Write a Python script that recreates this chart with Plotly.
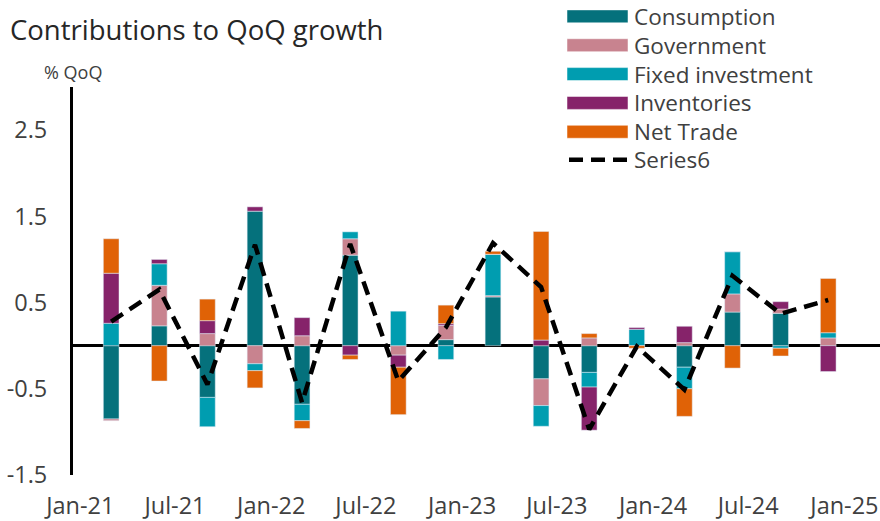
import plotly.graph_objects as go

# ---------------- data ----------------
quarters = ["2021-03-01", "2021-06-01", "2021-09-01", "2021-12-01",
            "2022-03-01", "2022-06-01", "2022-09-01", "2022-12-01",
            "2023-03-01", "2023-06-01", "2023-09-01", "2023-12-01",
            "2024-03-01", "2024-06-01", "2024-09-01", "2024-12-01"]

consumption = [-0.85, 0.23, -0.60, 1.56, -0.68, 1.05, 0.00, 0.07,
               0.565, -0.385, -0.31, 0.00, -0.25, 0.39, 0.375, 0.00]
government = [-0.02, 0.47, 0.14, -0.21, 0.115, 0.19, -0.11, 0.165,
              0.015, -0.31, 0.09, 0.00, 0.035, 0.21, 0.05, 0.09]
fixed_investment = [0.26, 0.25, -0.34, -0.08, -0.19, 0.08, 0.40, -0.16,
                    0.48, -0.24, -0.17, 0.19, -0.25, 0.49, -0.03, 0.06]
inventories = [0.58, 0.05, 0.15, 0.05, 0.21, -0.11, -0.14, 0.02,
               0.00, 0.065, -0.50, 0.02, 0.19, 0.00, 0.085, -0.30]
net_trade = [0.40, -0.41, 0.25, -0.20, -0.09, -0.05, -0.55, 0.215,
             0.035, 1.26, 0.05, -0.03, -0.32, -0.26, -0.09, 0.63]
series6 = [0.28, 0.65, -0.45, 1.17, -0.66, 1.18, -0.41, 0.21,
           1.19, 0.68, -0.97, -0.01, -0.51, 0.81, 0.37, 0.53]

series_names = ["Consumption", "Government", "Fixed investment", "Inventories", "Net Trade"]
series_values = [consumption, government, fixed_investment, inventories, net_trade]
series_colors = ["#05717C", "#C8838F", "#009DB0", "#86236A", "#E06206"]
line_name = "Series6"

y_ticks = [-1.5, -0.5, 0.5, 1.5, 2.5]
y_tick_text = ["-1.5", "-0.5", "0.5", "1.5", "2.5"]

title_text = "Contributions to QoQ growth"
unit_text = "% QoQ"

# ---------------- layout helpers ----------------
W, H = 880, 521
ML, MR, MT, MB = 73, 0, 87, 44
FONT = "Open Sans, Lato, Noto Sans, sans-serif"


def px_x(x):
    return (x - ML) / (W - ML - MR)


def px_y(y):
    return 1 - (y - MT) / (H - MT - MB)


fig = go.Figure()

bar_width_ms = 30 * 24 * 3600 * 1000
for name, vals, col in zip(series_names, series_values, series_colors):
    fig.add_trace(go.Bar(x=quarters, y=vals, name=name, marker_color=col,
                         width=bar_width_ms, showlegend=False))

fig.add_trace(go.Scatter(x=quarters, y=series6, name=line_name, mode="lines",
                         line=dict(color="black", width=4.5, dash="14px,8px"),
                         showlegend=False))

# ---------------- manual legend ----------------
legend_rows = [16, 45, 74, 103, 132, 160]
shapes = []
annotations = []
for i, (name, col) in enumerate(zip(series_names, series_colors)):
    yc = legend_rows[i]
    shapes.append(dict(type="rect", xref="paper", yref="paper",
                       x0=px_x(567), x1=px_x(628), y0=px_y(yc - 6.5), y1=px_y(yc + 6.5),
                       fillcolor=col, line=dict(color="white", width=0.5)))
    annotations.append(dict(text=name, xref="paper", yref="paper",
                            x=px_x(632), y=px_y(yc), xanchor="left", yanchor="middle",
                            showarrow=False, font=dict(family=FONT, size=22.5, color="#404040")))
yc = legend_rows[5]
shapes.append(dict(type="line", xref="paper", yref="paper",
                   x0=px_x(569), x1=px_x(627), y0=px_y(yc), y1=px_y(yc),
                   line=dict(color="black", width=4.5, dash="14px,8px")))
annotations.append(dict(text=line_name, xref="paper", yref="paper",
                        x=px_x(632), y=px_y(yc), xanchor="left", yanchor="middle",
                        showarrow=False, font=dict(family=FONT, size=22.5, color="#404040")))

annotations.append(dict(text=unit_text, xref="paper", yref="paper",
                        x=px_x(73), y=px_y(72), xanchor="center", yanchor="middle",
                        showarrow=False, font=dict(family=FONT, size=18, color="#404040")))

fig.update_layout(
    width=W, height=H,
    margin=dict(l=ML, r=MR, t=MT, b=MB, pad=0),
    barmode="relative",
    bargap=0,
    plot_bgcolor="white", paper_bgcolor="white",
    font=dict(family=FONT, color="#404040"),
    title=dict(text=title_text, xref="container", yref="container",
               x=10 / W, y=1 - 30 / H, xanchor="left", yanchor="middle",
               font=dict(family=FONT, size=27.5, color="#262626")),
    shapes=shapes,
    annotations=annotations,
    showlegend=False,
    hovermode=False,
    xaxis=dict(type="date", range=["2020-12-18", "2025-03-10"],
               tick0="2021-01-01", dtick="M6", tickformat="%b-%y",
               showgrid=False, zeroline=False, showline=False, ticks="",
               ticklabelstandoff=14,
               tickfont=dict(family=FONT, size=23.5, color="#404040")),
    yaxis=dict(range=[-1.5, 3.0], tickvals=y_ticks, ticktext=y_tick_text,
               showgrid=False, showline=True, linecolor="black", linewidth=3,
               zeroline=True, zerolinecolor="black", zerolinewidth=3.5,
               ticks="", ticklabelstandoff=18,
               tickfont=dict(family=FONT, size=23.5, color="#404040")),
)

fig.write_html("out.html",
               config={"displayModeBar": False, "staticPlot": True},
               post_script="document.body.style.margin='0';document.body.style.overflow='hidden';")
